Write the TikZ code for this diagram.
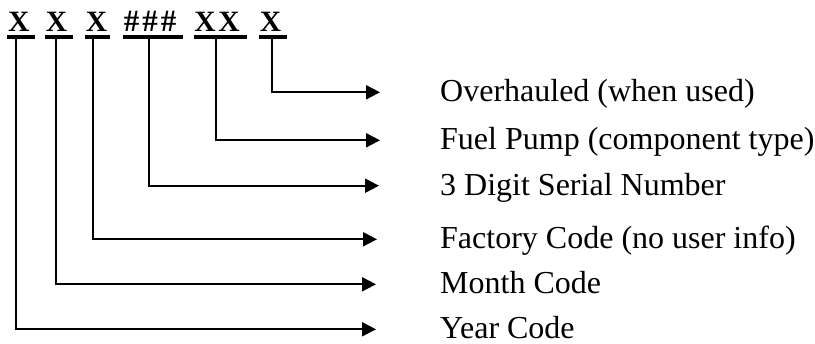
\documentclass[tikz,border=0pt]{standalone}
\usepackage{fontspec}
\setmainfont{Liberation Serif}
\usetikzlibrary{arrows.meta}
\begin{document}
\begin{tikzpicture}[x=1pt,y=-1pt,
  lbl/.style={anchor=base west,inner sep=0pt,font=\fontsize{32}{38}\selectfont},
  codechar/.style={anchor=base,inner sep=0pt,font=\fontsize{29.5}{33}\selectfont\bfseries},
  hashchar/.style={anchor=base,inner sep=0pt,font=\fontsize{31}{35}\selectfont\bfseries},
  ul/.style={fill=black,draw=none,inner sep=0pt,minimum height=4pt},
  conn/.style={line width=2pt,-{Triangle[length=14pt,width=14pt]}}]
\useasboundingbox (0,0) rectangle (815,344);
% code characters
\node[codechar] (c1) at (18.8,31.2) {X};
\node[codechar] (c2) at (56.6,31.2) {X};
\node[codechar] (c3) at (96.5,31.2) {X};
\node[hashchar] (h1) at (131.5,31.6) {\#};
\node[hashchar] (h2) at (150,31.6) {\#};
\node[hashchar] (h3) at (168.5,31.6) {\#};
\node[codechar] (c5a) at (205,31.2) {X};
\node[codechar] (c5b) at (229,31.2) {X};
\node[codechar] (c6) at (270.5,31.2) {X};
% underlines
\node[ul,minimum width=27.7pt] (u1) at (21.15,37) {};
\node[ul,minimum width=28.3pt] (u2) at (59.15,37) {};
\node[ul,minimum width=25pt] (u3) at (97.5,37) {};
\node[ul,minimum width=59.7pt] (u4) at (153.15,37) {};
\node[ul,minimum width=53pt] (u5) at (220.5,37) {};
\node[ul,minimum width=28pt] (u6) at (273,37) {};
% line starts
\coordinate (s1) at (15.7,39);
\coordinate (s2) at (55.7,39);
\coordinate (s3) at (92.7,39);
\coordinate (s4) at (149,39);
\coordinate (s5) at (216,39);
\coordinate (s6) at (272,39);
% arrow ends
\coordinate (e6) at (380,92.3);
\coordinate (e5) at (380,140.3);
\coordinate (e4) at (379,185.7);
\coordinate (e3) at (377,239.3);
\coordinate (e2) at (376,284.3);
\coordinate (e1) at (376,329.3);
% labels
\node[lbl] (l6) at (440,102) {Overhauled (when used)};
\node[lbl] (l5) at (440,150) {Fuel Pump (component type)};
\node[lbl] (l4) at (440,195.4) {3 Digit Serial Number};
\node[lbl] (l3) at (440,249) {Factory Code (no user info)};
\node[lbl] (l2) at (440,294) {Month Code};
\node[lbl] (l1) at (440,338.5) {Year Code};
% connectors
\draw[conn] (s6) |- (e6);
\draw[conn] (s5) |- (e5);
\draw[conn] (s4) |- (e4);
\draw[conn] (s3) |- (e3);
\draw[conn] (s2) |- (e2);
\draw[conn] (s1) |- (e1);
\end{tikzpicture}
\end{document}
